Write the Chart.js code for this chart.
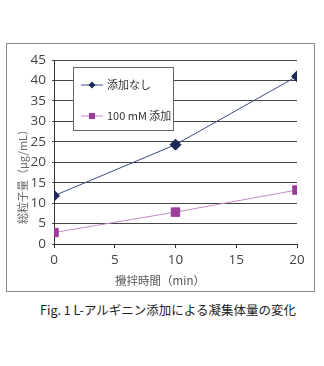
<!DOCTYPE html>
<html>
<head>
<meta charset="utf-8">
<script src="https://cdn.jsdelivr.net/npm/chart.js@4"></script>
<style>
  body { margin: 0; background: #fff; width: 324px; height: 366px; position: relative; overflow: hidden; }
  #frame { position: absolute; left: 6px; top: 43px; width: 307px; height: 247px; border: 1px solid #8a8a8a; }
  #wrap { position: absolute; left: 0; top: 0; width: 324px; height: 300px; }
  #caption { position: absolute; left: 0; top: 300px; width: 336px; text-align: center; font-family: "Noto Sans CJK JP", "Noto Sans", sans-serif; font-size: 12.5px; color: #222; }
</style>
</head>
<body>
<div id="frame"></div>
<div id="wrap"><canvas id="chart" width="324" height="300"></canvas></div>
<div id="caption">Fig. 1 L-アルギニン添加による凝集体量の変化</div>
<script>
const minutes = [0, 10, 20];
const noAdditive = [11.8, 24.3, 41.0];
const arginine100 = [2.8, 7.8, 13.2];
const seriesNames = ['添加なし', '100 mM 添加'];
const xTitle = '攪拌時間（min）';
const yTitle = '総粒子量（μg/mL）';

const FONT = '"Noto Sans CJK JP", "Noto Sans", sans-serif';
const TICK_FONT = '"Open Sans", "Noto Sans", sans-serif';

function toPoints(xs, ys) {
    return xs.map((x, i) => ({x: x, y: ys[i]}));
}

// legend box inside the plot area plus both axis titles
const boxLegend = {
    id: 'boxLegend',
    afterDraw(chart) {
        const ctx = chart.ctx;
        const x = 73, y = 67, w = 100, h = 63;
        ctx.save();
        ctx.fillStyle = '#fff';
        ctx.fillRect(x, y, w, h);
        ctx.strokeStyle = '#666';
        ctx.lineWidth = 1;
        ctx.strokeRect(x + 0.5, y + 0.5, w, h);
        chart.data.datasets.forEach((ds, i) => {
            const cy = y + 18 + i * 31;
            ctx.strokeStyle = ds.borderColor;
            ctx.lineWidth = 1;
            ctx.beginPath();
            ctx.moveTo(81, cy);
            ctx.lineTo(103, cy);
            ctx.stroke();
            ctx.fillStyle = ds.pointBackgroundColor;
            if (ds.pointStyle === 'rectRot') {
                ctx.beginPath();
                ctx.moveTo(92, cy - 3.5);
                ctx.lineTo(95.5, cy);
                ctx.lineTo(92, cy + 3.5);
                ctx.lineTo(88.5, cy);
                ctx.closePath();
                ctx.fill();
            } else {
                ctx.fillRect(89, cy - 3, 6, 6);
            }
            ctx.fillStyle = '#333';
            ctx.font = '11px ' + FONT;
            ctx.textBaseline = 'middle';
            ctx.fillText(ds.label, 107, cy);
        });

        ctx.fillStyle = '#555';
        ctx.font = '11.5px ' + FONT;
        ctx.textAlign = 'center';
        ctx.textBaseline = 'middle';
        ctx.fillText(xTitle, 160, 281);
        ctx.translate(23, 174);
        ctx.rotate(-Math.PI / 2);
        ctx.fillStyle = '#666';
        ctx.font = '11px ' + FONT;
        ctx.fillText(yTitle, 0, 0);
        ctx.restore();
    }
};

new Chart(document.getElementById('chart'), {
    type: 'line',
    data: {
        datasets: [
            {
                label: seriesNames[0],
                data: toPoints(minutes, noAdditive),
                borderColor: '#3b4a80',
                borderWidth: 1,
                pointStyle: 'rectRot',
                pointRadius: 5.5,
                pointBackgroundColor: '#1c2855',
                pointBorderColor: '#1c2855',
                pointBorderWidth: 1
            },
            {
                label: seriesNames[1],
                data: toPoints(minutes, arginine100),
                borderColor: '#c58ac5',
                borderWidth: 1,
                pointStyle: 'rect',
                pointRadius: 6,
                pointBackgroundColor: '#9b3d9b',
                pointBorderColor: '#9b3d9b',
                pointBorderWidth: 1
            }]
    },
    options: {
        responsive: false,
        animation: false,
        layout: {padding: {top: 60, right: 27, bottom: 0, left: 0}},
        plugins: {
            legend: {display: false},
            tooltip: {enabled: false}
        },
        scales: {
            x: {
                type: 'linear',
                min: 0,
                max: 20,
                ticks: {stepSize: 5, color: '#444', font: {family: TICK_FONT, size: 13.5}, padding: 4},
                grid: {drawOnChartArea: false, drawTicks: true, tickLength: 4, color: '#333'},
                border: {color: '#333'},
                afterFit(scale) { scale.height = 56; }
            },
            y: {
                min: 0,
                max: 45,
                ticks: {stepSize: 5, color: '#444', font: {family: TICK_FONT, size: 13.5}, padding: 6},
                grid: {color: '#444', drawTicks: true, tickLength: 2},
                border: {color: '#333'},
                afterFit(scale) { scale.width = 54; }
            }
        }
    },
    plugins: [boxLegend]
});
</script>
</body>
</html>
